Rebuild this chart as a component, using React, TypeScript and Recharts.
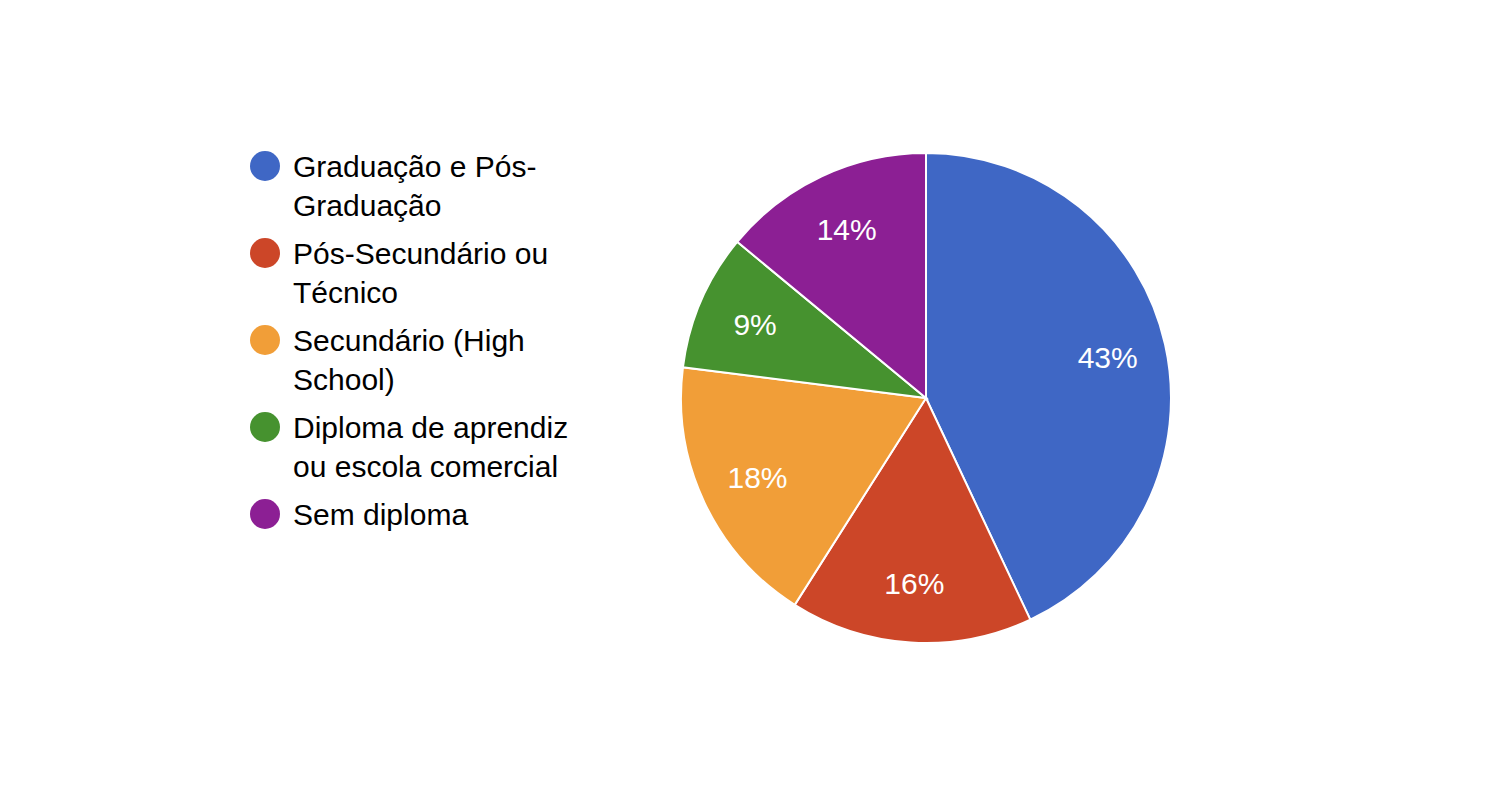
import React from "react";
import { PieChart, Pie, Cell, Legend } from "recharts";

const categories = [
  "Graduação e Pós-Graduação",
  "Pós-Secundário ou Técnico",
  "Secundário (High School)",
  "Diploma de aprendiz ou escola comercial",
  "Sem diploma",
];
const values = [43, 16, 18, 9, 14];
const colors = ["#3f67c5", "#cc4628", "#f19e38", "#46922f", "#8c1f94"];

const data = categories.map((name, i) => ({ name, value: values[i] }));

const FONT = "'Liberation Sans', Arial, Helvetica, sans-serif";
const RADIAN = Math.PI / 180;

function renderLabel(props: any) {
  const { cx, cy, midAngle, outerRadius, percent } = props;
  const r = outerRadius * 0.76;
  const x = cx + r * Math.cos(-midAngle * RADIAN);
  const y = cy + r * Math.sin(-midAngle * RADIAN);
  return (
    <text
      x={x}
      y={y}
      fill="#ffffff"
      textAnchor="middle"
      dominantBaseline="central"
      style={{ fontFamily: FONT, fontSize: 30 }}
    >
      {`${Math.round(percent * 100)}%`}
    </text>
  );
}

function LegendContent() {
  return (
    <div style={{ fontFamily: FONT, fontSize: 30, lineHeight: "39px", color: "#000" }}>
      {data.map((d, i) => (
        <div key={d.name} style={{ display: "flex", alignItems: "flex-start", marginBottom: 9 }}>
          <div
            style={{
              width: 30,
              height: 30,
              borderRadius: "50%",
              background: colors[i],
              marginTop: 4,
              flexShrink: 0,
            }}
          />
          <div style={{ marginLeft: 13, width: 290 }}>{d.name}</div>
        </div>
      ))}
    </div>
  );
}

export default function App() {
  return (
    <div style={{ position: "absolute", left: 0, top: 0, width: 1492, height: 786, background: "#fff" }}>
      <PieChart width={1492} height={786} margin={{ top: 0, right: 0, bottom: 0, left: 0 }}>
        <Pie
          data={data}
          dataKey="value"
          nameKey="name"
          cx={926}
          cy={398}
          outerRadius={245}
          startAngle={90}
          endAngle={-270}
          stroke="#ffffff"
          strokeWidth={2}
          label={renderLabel}
          labelLine={false}
          isAnimationActive={false}
        >
          {data.map((d, i) => (
            <Cell key={d.name} fill={colors[i]} />
          ))}
        </Pie>
        <Legend
          content={<LegendContent />}
          wrapperStyle={{ position: "absolute", left: 250, top: 147, width: 340 }}
        />
      </PieChart>
    </div>
  );
}
